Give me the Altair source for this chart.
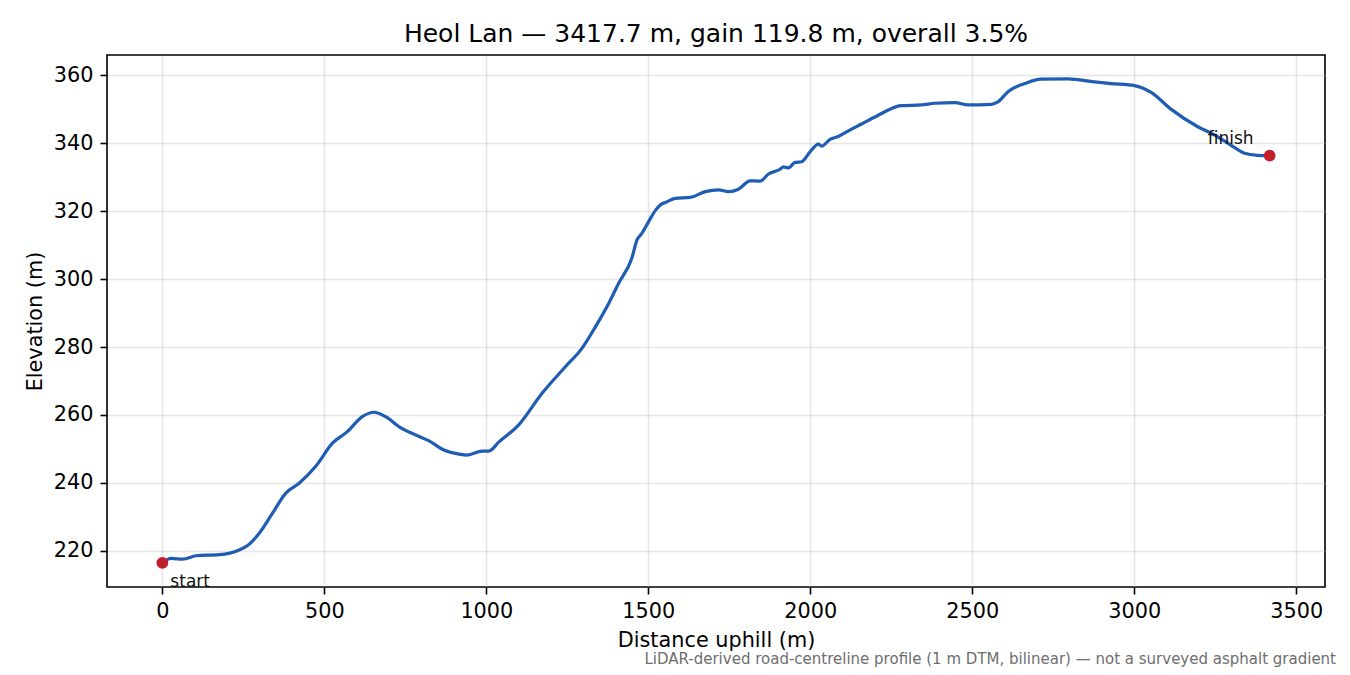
import altair as alt
import pandas as pd

# Profile
distance_m = [0, 27, 63, 104, 176, 237, 263, 299, 340, 381, 422, 474, 525, 571, 617, 653,
              689, 730, 782, 823, 869, 915, 941, 987, 1008, 1039, 1100, 1172, 1244, 1295,
              1337, 1378, 1408, 1449, 1465, 1480, 1501, 1522, 1537, 1555, 1583, 1629, 1676,
              1717, 1747, 1778, 1814, 1845, 1871, 1907, 1917, 1932, 1953, 1973, 1999, 2025,
              2035, 2061, 2086, 2112, 2158, 2204, 2281, 2343, 2384, 2446, 2487, 2559, 2579,
              2610, 2662, 2713, 2795, 2877, 2929, 3001, 3052, 3114, 3196, 3247, 3298, 3340,
              3380, 3417.7]
elevation_m = [216.5, 217.8, 217.6, 218.6, 218.9, 220.3, 221.6, 225.2, 231.1, 237.0, 239.9,
               245.0, 251.7, 255.1, 259.5, 260.8, 259.5, 256.6, 254.1, 252.4, 249.7, 248.5,
               248.2, 249.4, 249.4, 252.1, 257.1, 266.4, 274.2, 279.6, 286.0, 292.9, 298.7,
               306.1, 311.5, 313.4, 316.9, 320.2, 321.8, 322.6, 323.7, 324.0, 325.7, 326.2,
               325.7, 326.4, 328.9, 328.8, 330.9, 332.3, 333.0, 332.7, 334.3, 334.5, 337.4,
               339.7, 339.1, 341.1, 341.9, 343.3, 345.6, 347.9, 351.0, 351.2, 351.7, 351.9,
               351.2, 351.4, 352.1, 355.1, 357.5, 358.8, 358.9, 358.0, 357.5, 356.9, 354.9,
               349.9, 344.8, 342.4, 339.4, 337.0, 336.4, 336.3]

end_labels = ["start", "finish"]
end_distance = [0, 3417.7]
end_elevation = [216.5, 336.3]

x_ticks = [0, 500, 1000, 1500, 2000, 2500, 3000, 3500]
y_ticks = [220, 240, 260, 280, 300, 320, 340, 360]

title_text = "Heol Lan \u2014 3417.7 m, gain 119.8 m, overall 3.5%"
footnote = "LiDAR-derived road-centreline profile (1 m DTM, bilinear) \u2014 not a surveyed asphalt gradient"

FONT = "DejaVu Sans"
LINE_COLOR = "#1f5cb3"
DOT_COLOR = "#c21f2c"

profile = pd.DataFrame({"d": distance_m, "e": elevation_m})
ends = pd.DataFrame({"d": end_distance, "e": end_elevation, "label": end_labels})
note = pd.DataFrame({"t": [footnote]})
heading = pd.DataFrame({"t": [title_text]})

x_scale = alt.Scale(domain=[-170.9, 3588.6], nice=False, zero=False)
y_scale = alt.Scale(domain=[209.4, 365.9], nice=False, zero=False)

x_enc = alt.X("d:Q", scale=x_scale,
              axis=alt.Axis(title="Distance uphill (m)", values=x_ticks, format="d"))
y_enc = alt.Y("e:Q", scale=y_scale,
              axis=alt.Axis(title="Elevation (m)", values=y_ticks, format="d"))

line = alt.Chart(profile).mark_line(color=LINE_COLOR, strokeWidth=3.2, interpolate="monotone").encode(
    x=x_enc, y=y_enc, order="d:Q")

dots = alt.Chart(ends).mark_circle(color=DOT_COLOR, size=140, opacity=1).encode(x=x_enc, y=y_enc)

start_lbl = alt.Chart(ends).transform_filter(alt.datum.label == "start").mark_text(
    font=FONT, fontSize=17, color="#111111", align="left", baseline="alphabetic", dx=8, dy=24
).encode(x=x_enc, y=y_enc, text="label:N")

finish_lbl = alt.Chart(ends).transform_filter(alt.datum.label == "finish").mark_text(
    font=FONT, fontSize=17, color="#111111", align="right", baseline="alphabetic", dx=-16, dy=-12
).encode(x=x_enc, y=y_enc, text="label:N")

title_txt = alt.Chart(heading).mark_text(
    font=FONT, fontSize=25, color="black", align="center", baseline="alphabetic"
).encode(x=alt.value(609), y=alt.value(-13), text="t:N")

note_txt = alt.Chart(note).mark_text(
    font=FONT, fontSize=15, color="#6e6e6e", align="right", baseline="alphabetic"
).encode(x=alt.value(1229), y=alt.value(609), text="t:N")

chart = alt.layer(line, dots, start_lbl, finish_lbl, title_txt, note_txt).properties(
    width=1218, height=532,
    padding={"left": 99, "top": 47, "right": 17, "bottom": 80},
    autosize=alt.AutoSizeParams(type="none"),
    background="white",
).configure_view(
    stroke="black", strokeWidth=1.6
).configure_axis(
    domain=False, ticks=True, tickColor="black", tickWidth=1.6, tickSize=7,
    labelFont=FONT, labelFontSize=20.8, labelColor="black", labelPadding=7,
    titleFont=FONT, titleFontSize=20.8, titleFontWeight="normal", titleColor="black", titlePadding=8,
    grid=True, gridColor="#b0b0b0", gridOpacity=0.3, gridWidth=1.6,
).configure_axisX(titlePadding=10)

chart.save("out.html", embed_options={"renderer": "svg", "actions": False})
